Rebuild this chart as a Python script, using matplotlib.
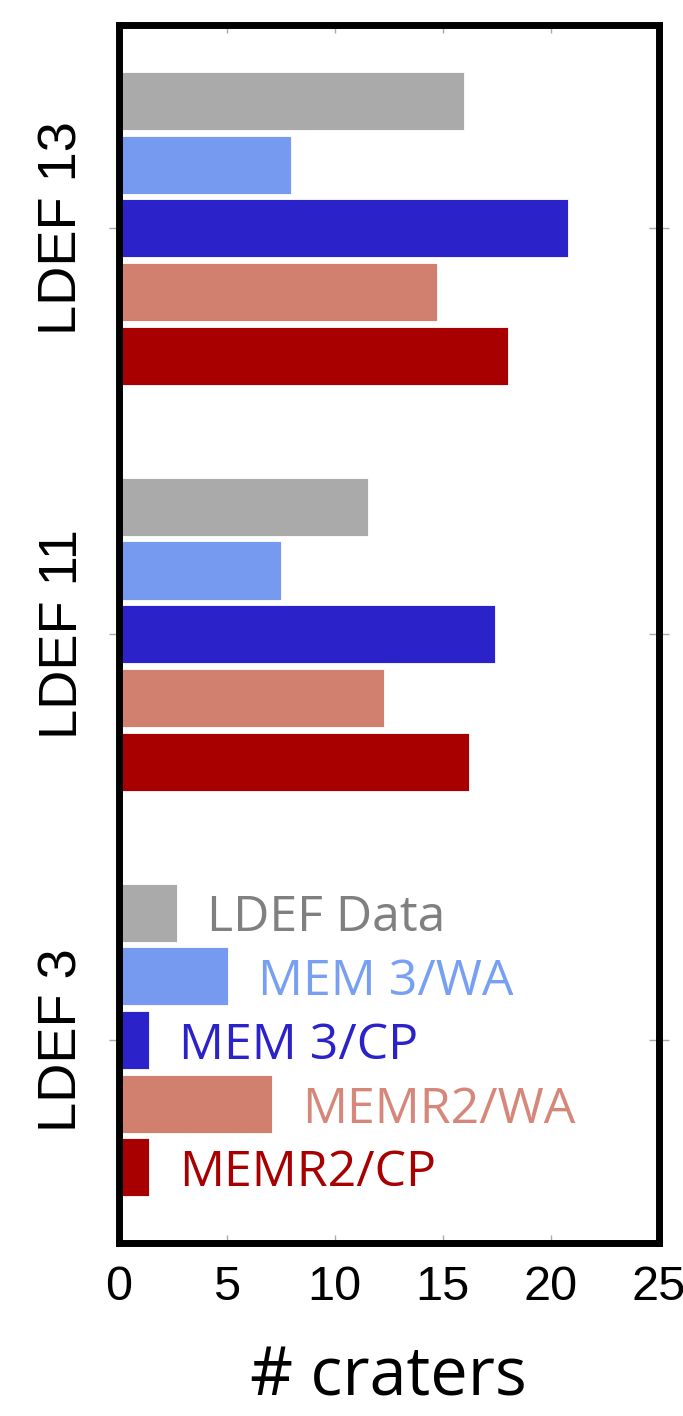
import numpy as np
import matplotlib
matplotlib.use("Agg")
import matplotlib.pyplot as plt

# crater counts per LDEF panel, one list per model
panels = ["LDEF 3", "LDEF 11", "LDEF 13"]
models = ["LDEF Data", "MEM 3/WA", "MEM 3/CP", "MEMR2/WA", "MEMR2/CP"]
ldef_data = [2.7, 11.55, 16.0]
mem3_wa = [5.05, 7.5, 8.0]
mem3_cp = [1.4, 17.4, 20.8]
memr2_wa = [7.1, 12.3, 14.75]
memr2_cp = [1.4, 16.2, 18.0]
xticks = [0, 5, 10, 15, 20, 25]

series = [ldef_data, mem3_wa, mem3_cp, memr2_wa, memr2_cp]
bar_colors = ["#aaaaaa", "#769aef", "#2c22c9", "#d18070", "#a80000"]
text_colors = ["#808080", "#78a0f2", "#2c22c9", "#d5887a", "#a80000"]

fig = plt.figure(figsize=(6.83, 14.16), dpi=100)
ax = fig.add_axes([0.1735, 0.1222, 0.7914, 0.8598])

y = np.arange(len(panels))
step = 0.157
height = 0.143
for i, (vals, col) in enumerate(zip(series, bar_colors)):
    off = (2 - i) * step
    ax.barh(y + off, vals, height=height, color=col, edgecolor="white",
            linewidth=0.6, zorder=2)
    # model names next to the bottom panel bars
    ax.annotate(models[i], xy=(vals[0], y[0] + off), xytext=(22, 0),
                textcoords="offset points", va="center_baseline", ha="left",
                color=text_colors[i], fontsize=36, family="Open Sans")

ax.set_xlim(0, 25)
ax.set_ylim(-0.5, 2.5)
ax.set_xticks(xticks)
ax.set_xticklabels([str(t) for t in xticks], family="Liberation Sans",
                   fontsize=35)
ax.set_yticks(y)
ax.set_yticklabels(panels, rotation=90, va="center",
                   family="Liberation Sans", fontsize=39)

ax.tick_params(axis="x", direction="in", length=6, width=1, color="#aaaaaa",
               top=True, bottom=True, pad=16)
ax.tick_params(axis="y", direction="inout", length=14, width=1, color="#aaaaaa",
               left=True, right=True, pad=15)

for s in ax.spines.values():
    s.set_linewidth(5)
    s.set_color("black")
    s.set_zorder(3)

ax.set_xlabel("# craters", family="Open Sans", fontsize=48, labelpad=24)

fig.savefig("out.png", dpi=100)
